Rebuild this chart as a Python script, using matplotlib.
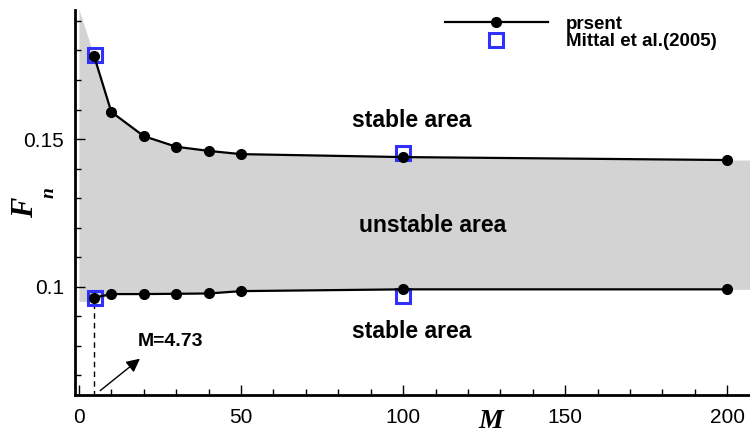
import matplotlib.pyplot as plt
from matplotlib.ticker import MultipleLocator

# === Data ===
M_present = [4.73, 10, 20, 30, 40, 50, 100, 200]
upper_present = [0.178, 0.1592, 0.151, 0.1474, 0.146, 0.1449, 0.1439, 0.1429]
lower_present = [0.0963, 0.0975, 0.0975, 0.0976, 0.0977, 0.0985, 0.0991, 0.0991]

M_mittal = [5, 5, 100, 100]
F_mittal = [0.1784, 0.0962, 0.1453, 0.0969]

# shaded (unstable) band boundaries
band_M = [0, 4.73, 10, 20, 30, 40, 50, 100, 200, 210]
band_upper = [0.194, 0.178, 0.1592, 0.151, 0.1474, 0.146, 0.1449, 0.1439, 0.1429, 0.1429]
band_lower = [0.095, 0.095, 0.0975, 0.0975, 0.0976, 0.0977, 0.0985, 0.0991, 0.0991, 0.0991]

# === Plotting ===
plt.rcParams['font.family'] = ['Liberation Sans', 'DejaVu Sans']
fig = plt.figure(figsize=(7.5, 4.37), dpi=100)
ax = fig.add_axes([0.1, 0.096, 0.9, 0.881])

ax.fill_between(band_M, band_lower, band_upper, color='#d3d3d3', lw=0, zorder=0)

ax.plot(M_present, upper_present, '-o', color='black', lw=1.6, ms=7, label='prsent', zorder=3)
ax.plot(M_present, lower_present, '-o', color='black', lw=1.6, ms=7, zorder=3)
ax.plot(M_mittal, F_mittal, 's', ls='none', mfc='none', mec='#3030ff', mew=2.2, ms=10,
        label='Mittal et al.(2005)', zorder=2)

# critical mass ratio marker
ax.plot([4.73, 4.73], [0.063, 0.0935], ls=(0, (4, 3)), color='black', lw=1, zorder=1)
ax.annotate('', xy=(19.5, 0.0762), xytext=(5.9, 0.0642),
            arrowprops=dict(arrowstyle='-|>', color='black', lw=1, mutation_scale=20))
ax.text(18.2, 0.0813, 'M=4.73', fontsize=14, fontweight='bold', ha='left', va='center')

ax.text(102.8, 0.1564, 'stable area', fontsize=16.5, fontweight='bold', ha='center', va='center')
ax.text(109, 0.1208, 'unstable area', fontsize=16.5, fontweight='bold', ha='center', va='center')
ax.text(102.8, 0.0848, 'stable area', fontsize=16.5, fontweight='bold', ha='center', va='center')

ax.set_xlim(-1.2, 207)
ax.set_ylim(0.0633, 0.1937)
ax.xaxis.set_major_locator(MultipleLocator(50))
ax.xaxis.set_minor_locator(MultipleLocator(10))
ax.set_yticks([0.1, 0.15])
ax.set_yticklabels(['0.1', '0.15'])
ax.yaxis.set_minor_locator(MultipleLocator(0.01))
ax.tick_params(which='both', direction='in', labelsize=15, width=1)
ax.tick_params(which='major', length=7)
ax.tick_params(which='minor', length=4)
ax.tick_params(axis='x', pad=9)
ax.tick_params(axis='y', pad=8)

for s in ['top', 'right']:
    ax.spines[s].set_visible(False)
for s in ['left', 'bottom']:
    ax.spines[s].set_linewidth(2)

# axis titles
ax.text(0.616, -0.070, 'M', transform=ax.transAxes, fontsize=20, fontweight='bold',
        style='italic', family='Liberation Serif', ha='center', va='center')
ax.text(-0.0726, 0.486, 'F', transform=ax.transAxes, rotation=90, fontsize=22,
        fontweight='bold', style='italic', family='Liberation Serif', ha='center', va='center')
ax.text(-0.038, 0.525, 'n', transform=ax.transAxes, rotation=90, fontsize=14,
        fontweight='bold', style='italic', family='Liberation Serif', ha='center', va='center')

ax.legend(loc='upper left', bbox_to_anchor=(0.548, 0.985), frameon=False,
          prop={'weight': 'bold', 'size': 13.5}, handlelength=5.5, handletextpad=0.95,
          labelspacing=0.0, borderaxespad=0, borderpad=0)

plt.savefig('out.png', dpi=100)
